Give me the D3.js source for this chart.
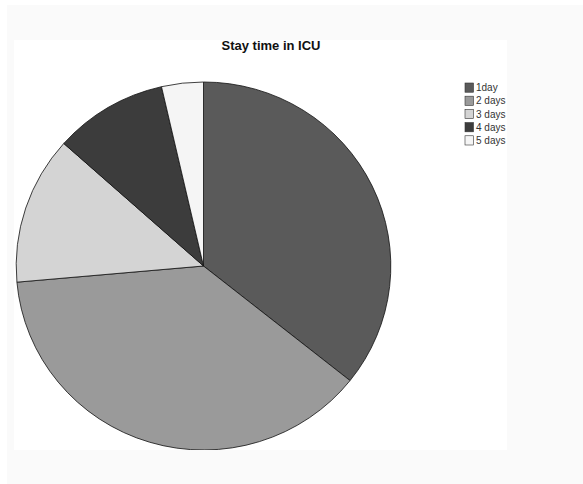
<!DOCTYPE html>
<html><head><meta charset="utf-8">
<script src="https://cdn.jsdelivr.net/npm/d3@7"></script>
<style>html,body{margin:0;padding:0;background:#fff;}svg{display:block;}</style>
</head><body>
<script>
const categories = ["1day", "2 days", "3 days", "4 days", "5 days"];
const values = [35.7, 37.9, 13.0, 9.8, 3.6];
const colors = ["#5a5a5a", "#9a9a9a", "#d4d4d4", "#3c3c3c", "#f5f5f5"];
const title = "Stay time in ICU";

const W = 583, H = 484;
const svg = d3.select("body").append("svg").attr("width", W).attr("height", H);

// page background
svg.append("rect").attr("x", 7).attr("y", 5).attr("width", W - 7).attr("height", H - 5).attr("fill", "#fafafa");
// chart panel
const panel = {x: 14, y: 40, w: 493, h: 410};
svg.append("rect").attr("x", panel.x).attr("y", panel.y).attr("width", panel.w).attr("height", panel.h).attr("fill", "#ffffff");

svg.append("defs").append("clipPath").attr("id", "pclip")
  .append("rect").attr("x", panel.x).attr("y", panel.y).attr("width", panel.w).attr("height", panel.h);

const g = svg.append("g").attr("clip-path", "url(#pclip)");

g.append("text").attr("x", 271).attr("y", 50).attr("text-anchor", "middle")
  .attr("font-family", "Liberation Sans, Arial, sans-serif").attr("font-weight", "bold")
  .attr("font-size", 13).attr("fill", "#111").text(title);

const cx = 203.5, cy = 266, r = 184;
const pie = d3.pie().sort(null).value(d => d)(values);
const arc = d3.arc().innerRadius(0).outerRadius(r);
const color = d3.scaleOrdinal().domain(categories).range(colors);

g.append("g").attr("transform", `translate(${cx},${cy}) scale(1.018,1)`)
  .selectAll("path").data(pie).join("path")
  .attr("d", arc).attr("fill", (d, i) => color(categories[i]))
  .attr("stroke", "#111").attr("stroke-width", 0.8).attr("stroke-linejoin", "round")
  .attr("vector-effect", "non-scaling-stroke");

const y = d3.scaleBand().domain(categories).range([83, 145]).paddingInner(0.3);
const leg = g.append("g");
leg.selectAll("rect").data(categories).join("rect")
  .attr("x", 465).attr("y", d => y(d)).attr("width", 8.5).attr("height", y.bandwidth())
  .attr("fill", d => color(d)).attr("stroke", "#333").attr("stroke-width", 0.6);
leg.selectAll("text").data(categories).join("text")
  .attr("x", 476).attr("y", d => y(d) + y.bandwidth() / 2 + 3.5)
  .attr("font-family", "Liberation Sans, Arial, sans-serif").attr("font-size", 10)
  .attr("fill", "#333").text(d => d);
</script>
</body></html>
